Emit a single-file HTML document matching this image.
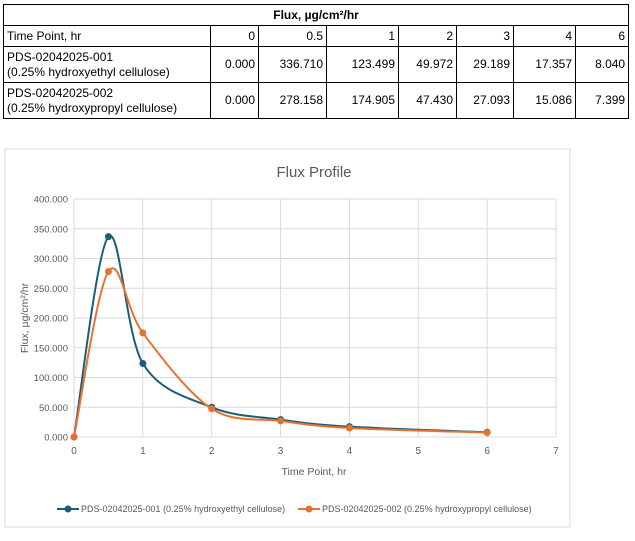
<!DOCTYPE html>
<html><head><meta charset="utf-8"><style>
body{margin:0;background:#fff;width:635px;height:541px;position:relative;overflow:hidden;font-family:"Liberation Sans",sans-serif;}
table{position:absolute;left:3px;top:4px;width:625px;border-collapse:collapse;table-layout:fixed;font-size:12px;color:#000;}
td{border:1px solid #000;padding:0 3px;text-align:right;line-height:15px;white-space:nowrap;overflow:hidden;}
td.l{text-align:left;}
</style></head><body>
<table>
<colgroup><col style="width:207px"><col style="width:48px"><col style="width:68px"><col style="width:72px"><col style="width:58px"><col style="width:57px"><col style="width:62px"><col style="width:53px"></colgroup>
<tr style="height:21px"><td colspan="8" style="text-align:center;font-weight:bold">Flux, µg/cm²/hr</td></tr>
<tr style="height:21px"><td class="l">Time Point, hr</td><td>0</td><td>0.5</td><td>1</td><td>2</td><td>3</td><td>4</td><td>6</td></tr>
<tr style="height:36px"><td class="l">PDS-02042025-001<br>(0.25% hydroxyethyl cellulose)</td><td>0.000</td><td>336.710</td><td>123.499</td><td>49.972</td><td>29.189</td><td>17.357</td><td>8.040</td></tr>
<tr style="height:36px"><td class="l">PDS-02042025-002<br>(0.25% hydroxypropyl cellulose)</td><td>0.000</td><td>278.158</td><td>174.905</td><td>47.430</td><td>27.093</td><td>15.086</td><td>7.399</td></tr>
</table>
<svg id="chart" width="635" height="541" style="position:absolute;left:0;top:0;pointer-events:none"></svg>
<script>
const times=[0,0.5,1,2,3,4,6];
const series1=[0,336.710,123.499,49.972,29.189,17.357,8.040];
const series2=[0,278.158,174.905,47.430,27.093,15.086,7.399];
const seriesNames=["PDS-02042025-001 (0.25% hydroxyethyl cellulose)","PDS-02042025-002 (0.25% hydroxypropyl cellulose)"];
const xTicks=[0,1,2,3,4,5,6,7];
const yTicks=[0,50,100,150,200,250,300,350,400];
const colors=["#1b5e7c","#e8712f"];
const svg=document.getElementById('chart');
const NS="http://www.w3.org/2000/svg";
const X0=74,X1=556,Y0=437,Y1=199;
const sx=v=>X0+(v-0)/(7-0)*(X1-X0);
const sy=v=>Y0-(v-0)/(400-0)*(Y0-Y1);
function mk(t,a,name){const e=document.createElementNS(NS,t);for(const k in a)e.setAttribute(k,a[k]);


svg.appendChild(e);return e;}
mk('rect',{x:5,y:149,width:565,height:378,fill:'none',stroke:'#d9d9d9'},'chart-border');
const title=mk('text',{x:314,y:177,'text-anchor':'middle','font-size':15,fill:'#595959'},'chart-title');title.textContent='Flux Profile';
yTicks.forEach(v=>{mk('line',{x1:X0,x2:X1,y1:sy(v),y2:sy(v),stroke:'#d9d9d9'},'y-gridline');
const t=mk('text',{x:X0-6,y:sy(v)+3.5,'text-anchor':'end','font-size':9.5,fill:'#595959'},'y-tick-label');t.textContent=v.toFixed(3);});
xTicks.forEach(v=>{mk('line',{x1:sx(v),x2:sx(v),y1:Y1,y2:Y0,stroke:'#d9d9d9'},'x-gridline');
const t=mk('text',{x:sx(v),y:Y0+17,'text-anchor':'middle','font-size':10,fill:'#595959'},'x-tick-label');t.textContent=v;});
const xt=mk('text',{x:314,y:475,'text-anchor':'middle','font-size':10.5,fill:'#595959'},'x-axis-title');xt.textContent='Time Point, hr';
const yt=mk('text',{x:0,y:0,'text-anchor':'middle','font-size':10.5,fill:'#595959',transform:'translate(28,318) rotate(-90)'},'y-axis-title');yt.textContent='Flux, µg/cm²/hr';
function path(vals){const p=times.map((t,i)=>[sx(t),sy(vals[i])]);let d='M'+p[0][0]+','+p[0][1];const k=1/6;
for(let i=0;i<p.length-1;i++){const a=p[i-1]||p[i],b=p[i],c=p[i+1],e=p[i+2]||c;
d+=' C'+(b[0]+(c[0]-a[0])*k)+','+(b[1]+(c[1]-a[1])*k)+' '+(c[0]-(e[0]-b[0])*k)+','+(c[1]-(e[1]-b[1])*k)+' '+c[0]+','+c[1];}return d;}
[series1,series2].forEach((vals,s)=>{
mk('path',{d:path(vals),fill:'none',stroke:colors[s],'stroke-width':2},'series-line-'+(s+1));
vals.forEach((v,i)=>mk('circle',{cx:sx(times[i]),cy:sy(v),r:3.5,fill:colors[s]},'series-'+(s+1)+'-point'));});
const lx=[57,298];
seriesNames.forEach((n,s)=>{mk('line',{x1:lx[s],x2:lx[s]+22,y1:509,y2:509,stroke:colors[s],'stroke-width':2},'legend-line-'+(s+1));
mk('circle',{cx:lx[s]+11,cy:509,r:3.5,fill:colors[s]},'legend-marker-'+(s+1));
const t=mk('text',{x:lx[s]+24,y:512,'font-size':9,fill:'#595959'},'legend-entry-'+(s+1));t.textContent=n;});
</script>
</body></html>
